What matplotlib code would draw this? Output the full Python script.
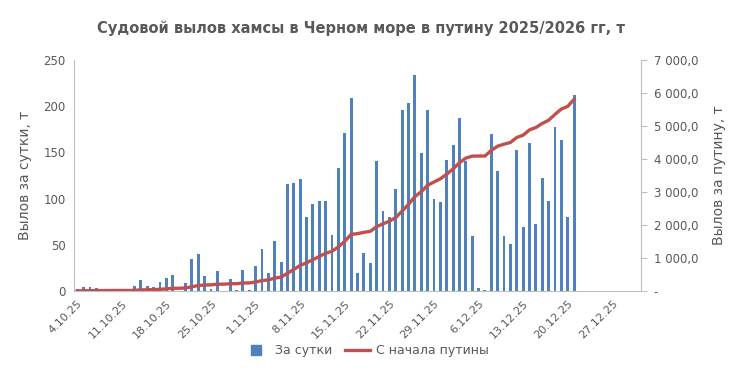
import numpy as np
import pandas as pd
import matplotlib
matplotlib.use('Agg')
import matplotlib.pyplot as plt
from matplotlib.lines import Line2D
from matplotlib.ticker import FuncFormatter

# daily catch, t (4.10.25 ... 21.12.25)
start = '2025-10-04'
daily = [2, 4, 4, 3, 0, 2.5, 0, 0, 0, 5.4, 11.9, 5.4, 4.3, 9.7, 14.4, 17.3, 0, 8.7,
         34.6, 40, 16.2, 2.5, 21.6, 0, 12.6, 1, 22.4, 1, 26.7, 45.5, 19.5, 54, 31.4,
         115.8, 116.9, 121.2, 80, 94.2, 97.4, 97.4, 60.6, 133, 171, 209, 19.5, 41,
         30.3, 140.7, 86.6, 80.1, 110.4, 195.9, 203.5, 233.8, 149.4, 195.9, 99.6,
         96.3, 141.8, 158, 187.2, 140.7, 59.5, 3.2, 1, 170, 129.9, 59.5, 50.9, 152.6,
         69.3, 160.2, 72.5, 122.3, 97.4, 177.5, 163.4, 80.1, 212.1]
# catch since start of season, t
season = [2, 6, 10, 13, 13, 15.5, 15.5, 15.5, 15.5, 20.9, 32.8, 38.2, 42.5, 52.2,
          66.6, 83.9, 83.9, 92.6, 127.2, 167.2, 183.4, 185.9, 207.5, 207.5, 220.1,
          221.1, 243.5, 244.5, 271.2, 316.7, 336.2, 390.2, 421.6, 537.4, 654.3,
          775.5, 855.5, 949.7, 1047.1, 1144.5, 1205.1, 1338.1, 1509.1, 1718.1,
          1737.6, 1778.6, 1808.9, 1949.6, 2036.2, 2116.3, 2226.7, 2422.6, 2626.1,
          2859.9, 3009.3, 3205.2, 3304.8, 3401.1, 3542.9, 3700.9, 3888.1, 4028.8,
          4088.3, 4091.5, 4092.5, 4262.5, 4392.4, 4451.9, 4502.8, 4655.4, 4724.7,
          4884.9, 4957.4, 5079.7, 5177.1, 5354.6, 5518, 5598.1, 5810.2]
tick_labels = ['4.10.25', '11.10.25', '18.10.25', '25.10.25', '1.11.25', '8.11.25',
               '15.11.25', '22.11.25', '29.11.25', '6.12.25', '13.12.25', '20.12.25',
               '27.12.25']

dates = pd.date_range(start, periods=len(daily), freq='D')
x = (dates - dates[0]).days.values
tick_pos = [(pd.to_datetime(d, format='%d.%m.%y') - dates[0]).days for d in tick_labels]

blue = '#4F81BD'
red = '#C0504D'
gray = '#595959'
axcol = '#BFBFBF'

plt.rcParams['font.family'] = ['DejaVu Sans']

fig = plt.figure(figsize=(7.33, 3.71), dpi=100)
ax = fig.add_axes([0.101, 0.2156, 0.7735, 0.6224])
ax.bar(x, daily, width=0.45, color=blue, zorder=2)
ax.set_xlim(-0.5, 88.5)
ax.set_ylim(0, 250)
ax.set_yticks(range(0, 251, 50))
ax.set_xticks(tick_pos)
ax.set_xticklabels(tick_labels, rotation=45, ha='right', rotation_mode='anchor')
ax.tick_params(axis='x', length=0, pad=5, labelsize=8, labelcolor=gray)
ax.tick_params(axis='y', length=0, pad=6, labelsize=8.5, labelcolor=gray)
for s in ['top', 'right']:
    ax.spines[s].set_visible(False)
ax.spines['left'].set_color(axcol)
ax.spines['bottom'].set_color(axcol)
ax.set_ylabel('Вылов за сутки, т', fontsize=10, color=gray, labelpad=8)

ax2 = ax.twinx()
ax2.plot(x, season, color=red, lw=2.4, zorder=3)
ax2.set_ylim(0, 7000)
ax2.set_yticks(range(0, 7001, 1000))
ax2.yaxis.set_major_formatter(FuncFormatter(
    lambda v, p: '-' if v == 0 else f'{v:,.1f}'.replace(',', ' ').replace('.', ',')))
ax2.tick_params(axis='y', length=4, color=axcol, labelsize=8.5, labelcolor=gray, pad=5)
for s in ['top', 'left', 'bottom']:
    ax2.spines[s].set_visible(False)
ax2.spines['right'].set_color(axcol)
ax2.set_ylabel('Вылов за путину, т', fontsize=10, color=gray, labelpad=10)

fig.suptitle('Судовой вылов хамсы в Черном море в путину 2025/2026 гг, т',
             x=0.492, y=0.945, fontsize=10.5, fontweight='bold', color=gray)

handles = [Line2D([], [], color=blue, marker='s', markersize=7, linestyle='none'),
           Line2D([], [], color=red, lw=2.4)]
fig.legend(handles, ['За сутки', 'С начала путины'], loc='center', ncol=2,
           bbox_to_anchor=(0.5, 0.055), frameon=False, fontsize=9,
           labelcolor=gray, handlelength=2.0, handletextpad=0.5, columnspacing=1.0)

fig.savefig('out.png', dpi=100)
